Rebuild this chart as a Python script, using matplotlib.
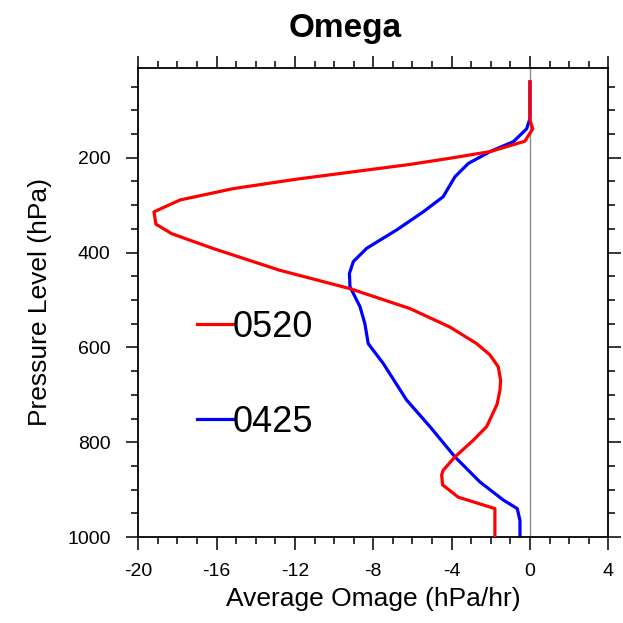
import numpy as np
import matplotlib
matplotlib.use("Agg")
import matplotlib.pyplot as plt
from matplotlib.ticker import MultipleLocator

plt.rcParams['font.family'] = ['Liberation Sans', 'DejaVu Sans']
plt.rcParams['axes.unicode_minus'] = False

# 0520 case (red)
p_0520 = [40, 120, 139, 165, 187, 201, 214, 245, 265, 289, 314, 340, 360, 391,
          437, 476, 518, 557, 592, 616, 641, 669, 690, 720, 767, 796, 831, 859,
          869, 890, 916, 940, 1000]
w_0520 = [0.0, 0.0, 0.14, -0.26, -2.04, -4.09, -6.13, -11.9, -15.15, -17.87,
          -19.2, -19.1, -18.3, -16.2, -12.8, -9.19, -6.13, -4.09, -2.72, -2.04,
          -1.62, -1.5, -1.53, -1.68, -2.21, -2.9, -3.83, -4.43, -4.51, -4.46,
          -3.66, -1.79, -1.79]

# 0425 case (blue)
p_0425 = [40, 117, 139, 166, 187, 212, 240, 282, 314, 352, 391, 419, 444, 472,
          514, 550, 592, 634, 711, 767, 831, 884, 922, 940, 965, 1000]
w_0425 = [0.0, 0.0, -0.17, -0.85, -2.04, -3.15, -3.83, -4.43, -5.45, -6.8,
          -8.34, -9.02, -9.22, -9.19, -8.68, -8.43, -8.26, -7.49, -6.3, -5.11,
          -3.83, -2.55, -1.36, -0.65, -0.51, -0.51]

labels = ["0520", "0425"]
colors = ["red", "blue"]

fig = plt.figure(figsize=(6.23, 6.23), dpi=100)
ax = fig.add_axes([0.222, 0.138, 0.7544, 0.7533])

ax.axvline(0, color="0.55", lw=1.0, zorder=1)
ax.plot(w_0425, p_0425, color="blue", lw=2.3, zorder=2)
ax.plot(w_0520, p_0520, color="red", lw=2.3, zorder=3)

ax.set_xlim(-20, 4)
ax.set_ylim(1000, 10)
ax.xaxis.set_major_locator(MultipleLocator(4))
ax.xaxis.set_minor_locator(MultipleLocator(1))
ax.yaxis.set_major_locator(MultipleLocator(200))
ax.yaxis.set_minor_locator(MultipleLocator(50))
ax.tick_params(which="both", direction="out", top=True, right=True,
               width=1.1, labelsize=14)
ax.tick_params(which="major", length=9)
ax.tick_params(which="minor", length=4.7)
ax.tick_params(axis="x", which="major", pad=10)
ax.tick_params(axis="y", which="major", pad=11)
for s in ax.spines.values():
    s.set_linewidth(1.3)

ax.set_xlabel("Average Omage (hPa/hr)", fontsize=19, labelpad=5)
ax.set_ylabel("Pressure Level (hPa)", fontsize=19, labelpad=11)

fig.text(345 / 623, 0.94, "Omega", fontsize=24, fontweight="bold",
         ha="center", va="baseline")

# in-plot legend
leg_y = [(0.4532, 0.4255), (0.2514, 0.2231)]
for lab, col, (ly, ty) in zip(labels, colors, leg_y):
    ax.plot([0.1243, 0.2021], [ly, ly], color=col, lw=2.3,
            transform=ax.transAxes)
    ax.text(0.2009, ty, lab, fontsize=26, transform=ax.transAxes,
            ha="left", va="baseline")

fig.savefig("out.png", dpi=100)
